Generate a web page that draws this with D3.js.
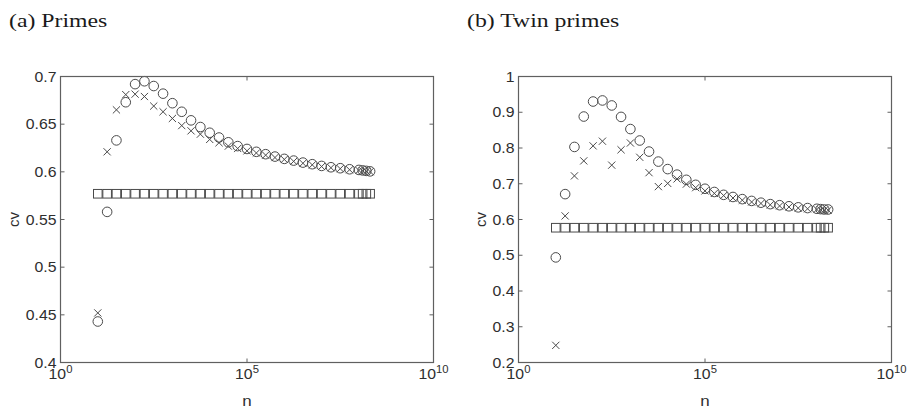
<html>
<head>
<script src="https://d3js.org/d3.v7.min.js"></script>
<style>
  body { margin: 0; background: #fff; }
  text { font-family: "Liberation Sans", Arial, sans-serif; }
</style>
</head>
<body>
<svg id="chart" width="907" height="413"></svg>
<script>
// sample sizes n (shared by both panels)
const nValues = [1e1, 1.78e1, 3.16e1, 5.62e1, 1e2, 1.78e2, 3.16e2, 5.62e2,
  1e3, 1.78e3, 3.16e3, 5.62e3, 1e4, 1.78e4, 3.16e4, 5.62e4,
  1e5, 1.78e5, 3.16e5, 5.62e5, 1e6, 1.78e6, 3.16e6, 5.62e6,
  1e7, 1.78e7, 3.16e7, 5.62e7, 1e8, 1.26e8, 1.58e8, 2e8];

// (a) primes
const primesCircle = [0.443, 0.558, 0.633, 0.673, 0.692, 0.695, 0.690, 0.682, 0.672, 0.663,
  0.654, 0.647, 0.641, 0.636, 0.631, 0.627, 0.624, 0.621, 0.6185, 0.616, 0.6136, 0.6118,
  0.6097, 0.608, 0.6062, 0.6048, 0.6038, 0.6027, 0.602, 0.6015, 0.601, 0.6005];
const primesCross = [0.452, 0.621, 0.665, 0.681, 0.6815, 0.679, 0.669, 0.663, 0.656, 0.6485,
  0.643, 0.6395, 0.634, 0.6305, 0.627, 0.6245, 0.622, 0.6198, 0.6175, 0.615, 0.613, 0.611,
  0.609, 0.6073, 0.6056, 0.6043, 0.6033, 0.6022, 0.6015, 0.601, 0.6006, 0.6002];
const primesSquare = [0.577, 0.577, 0.577, 0.577, 0.577, 0.577, 0.577, 0.577, 0.577, 0.577,
  0.577, 0.577, 0.577, 0.577, 0.577, 0.577, 0.577, 0.577, 0.577, 0.577, 0.577, 0.577,
  0.577, 0.577, 0.577, 0.577, 0.577, 0.577, 0.577, 0.577, 0.577, 0.577];

// (b) twin primes
const twinCircle = [0.494, 0.671, 0.803, 0.888, 0.930, 0.933, 0.919, 0.887, 0.853, 0.821,
  0.790, 0.762, 0.741, 0.7255, 0.711, 0.697, 0.686, 0.677, 0.669, 0.663, 0.657, 0.652,
  0.647, 0.643, 0.640, 0.637, 0.634, 0.632, 0.630, 0.629, 0.628, 0.628];
const twinCross = [0.248, 0.610, 0.722, 0.764, 0.806, 0.819, 0.752, 0.795, 0.814, 0.774,
  0.731, 0.692, 0.701, 0.7135, 0.699, 0.689, 0.680, 0.673, 0.667, 0.660, 0.654, 0.649,
  0.645, 0.641, 0.638, 0.635, 0.632, 0.630, 0.628, 0.627, 0.626, 0.626];
const twinSquare = [0.577, 0.577, 0.577, 0.577, 0.577, 0.577, 0.577, 0.577, 0.577, 0.577,
  0.577, 0.577, 0.577, 0.577, 0.577, 0.577, 0.577, 0.577, 0.577, 0.577, 0.577, 0.577,
  0.577, 0.577, 0.577, 0.577, 0.577, 0.577, 0.577, 0.577, 0.577, 0.577];

const xTickExps = [0, 5, 10];
const primesYTicks = [0.4, 0.45, 0.5, 0.55, 0.6, 0.65, 0.7];
const twinYTicks = [0.2, 0.3, 0.4, 0.5, 0.6, 0.7, 0.8, 0.9, 1];

const svg = d3.select("svg#chart");
const markColor = "#4a4a4a";
const axisColor = "#606060";
const labelColor = "#2e2e2e";
const stretch = 1.13; // the source picture is a bit wider than tall

// text placed at (x,y), drawn slightly stretched horizontally
function label(parent, x, y, size, anchor) {
  return parent.append("text")
    .attr("transform", `translate(${x},${y}) scale(${stretch},1)`)
    .attr("text-anchor", anchor).style("font-size", size + "px").attr("fill", labelColor);
}

function panel(opts) {
  const g = svg.append("g");
  const x = d3.scaleLog().domain([1, 1e10]).range([opts.left, opts.right]);
  const y = d3.scaleLinear().domain(opts.yDomain).range([opts.bottom, opts.top]);

  // title
  svg.append("text")
    .attr("transform", `translate(${opts.titleX},27) scale(1.25,1)`)
    .style("font-family", "'Liberation Serif', 'Times New Roman', serif")
    .style("font-size", "19px").attr("fill", "#1a1a1a")
    .text(opts.title);

  // squares
  g.selectAll("rect.sq").data(opts.square).join("rect")
    .attr("x", (d, i) => x(nValues[i]) - 4.3)
    .attr("y", d => y(d) - 4.3)
    .attr("width", 8.6).attr("height", 8.6)
    .attr("fill", "none").attr("stroke", markColor).attr("stroke-width", 1);

  // circles
  g.selectAll("circle.c").data(opts.circle).join("circle")
    .attr("cx", (d, i) => x(nValues[i]))
    .attr("cy", d => y(d))
    .attr("r", 4.8)
    .attr("fill", "none").attr("stroke", markColor).attr("stroke-width", 1);

  // crosses
  const s = 3.6;
  g.selectAll("path.x").data(opts.cross).join("path")
    .attr("d", (d, i) => {
      const cx = x(nValues[i]), cy = y(d);
      return `M${cx - s},${cy - s}L${cx + s},${cy + s}M${cx - s},${cy + s}L${cx + s},${cy - s}`;
    })
    .attr("fill", "none").attr("stroke", markColor).attr("stroke-width", 1);

  // box
  g.append("rect")
    .attr("x", opts.left).attr("y", opts.top)
    .attr("width", opts.right - opts.left).attr("height", opts.bottom - opts.top)
    .attr("fill", "none").attr("stroke", axisColor).attr("stroke-width", 1.2);

  // y ticks (inside, both sides)
  opts.yTicks.forEach(t => {
    const yy = y(t);
    g.append("line").attr("x1", opts.left).attr("x2", opts.left + 4)
      .attr("y1", yy).attr("y2", yy).attr("stroke", axisColor);
    g.append("line").attr("x1", opts.right).attr("x2", opts.right - 4)
      .attr("y1", yy).attr("y2", yy).attr("stroke", axisColor);
    label(g, opts.left - 4, yy + 5, 14, "end").text(opts.yFormat(t));
  });

  // x ticks
  xTickExps.forEach(e => {
    const xx = x(Math.pow(10, e));
    g.append("line").attr("x1", xx).attr("x2", xx)
      .attr("y1", opts.bottom).attr("y2", opts.bottom - 4).attr("stroke", axisColor);
    g.append("line").attr("x1", xx).attr("x2", xx)
      .attr("y1", opts.top).attr("y2", opts.top + 4).attr("stroke", axisColor);
    const t = label(g, xx, opts.bottom + 16, 14, "middle");
    t.append("tspan").text("10");
    t.append("tspan").attr("dy", -6).style("font-size", "10px").text(e);
  });

  // axis labels
  label(g, (opts.left + opts.right) / 2, 406, 15, "middle").text("n");
  g.append("text")
    .attr("transform", `translate(${opts.cvX},${(opts.top + opts.bottom) / 2}) rotate(-90)`)
    .attr("text-anchor", "middle").style("font-size", "15px").attr("fill", labelColor)
    .text("cv");
}

panel({
  title: "(a) Primes", titleX: 9,
  left: 60.5, right: 433.5, top: 76.5, bottom: 362.5,
  yDomain: [0.4, 0.7], yTicks: primesYTicks, yFormat: d3.format(""),
  circle: primesCircle, cross: primesCross, square: primesSquare, cvX: 19
});

panel({
  title: "(b) Twin primes", titleX: 467,
  left: 518.5, right: 891.5, top: 76.5, bottom: 362.5,
  yDomain: [0.2, 1], yTicks: twinYTicks, yFormat: d3.format(""),
  circle: twinCircle, cross: twinCross, square: twinSquare, cvX: 486
});
</script>
</body>
</html>
